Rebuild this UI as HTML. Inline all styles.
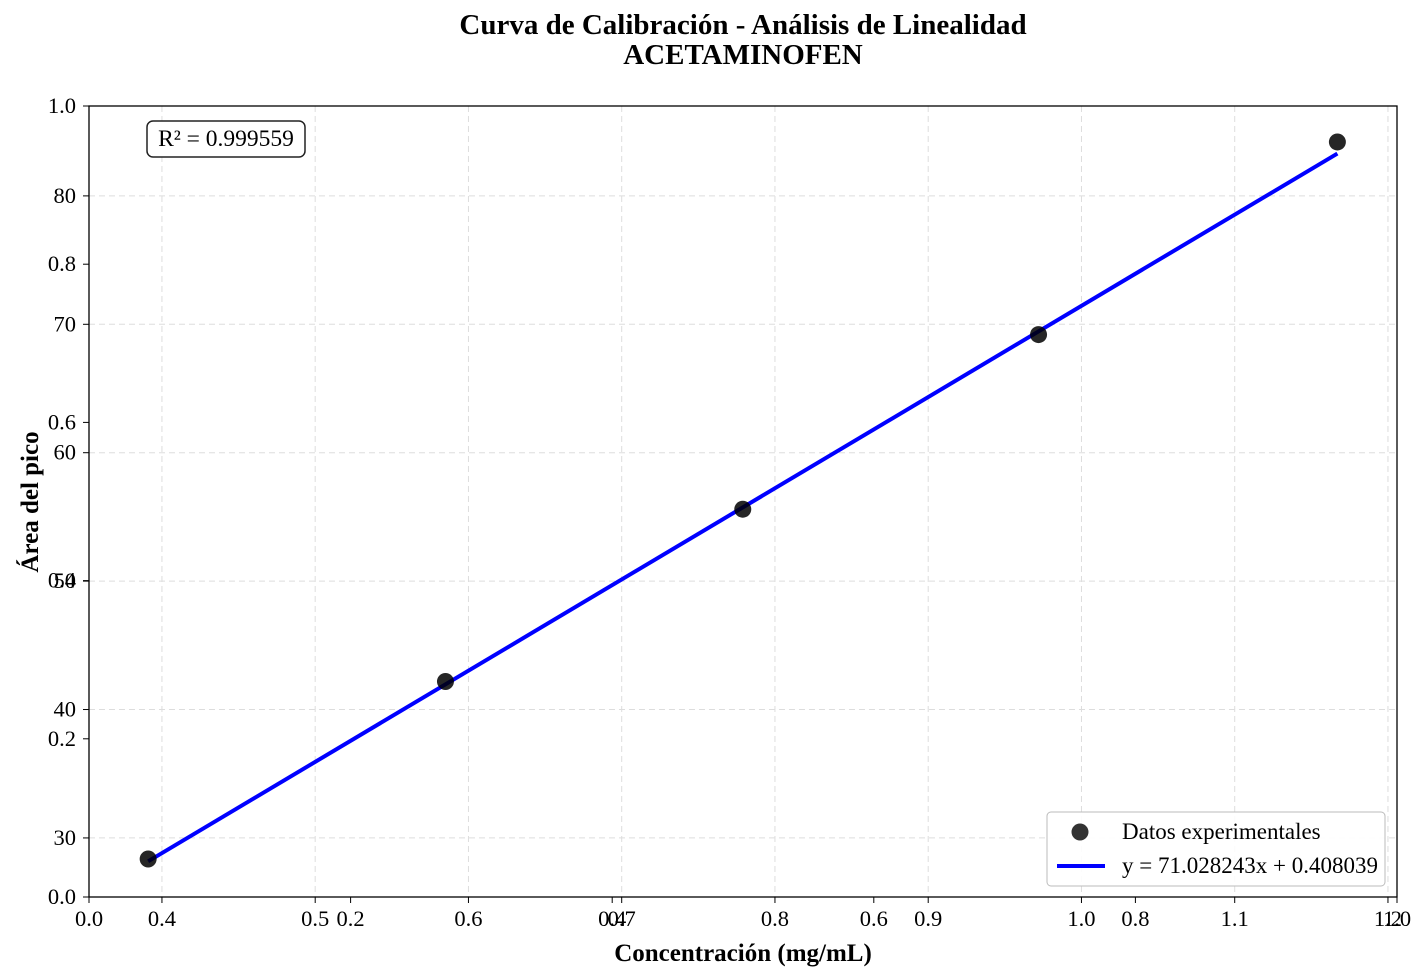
<!DOCTYPE html>
<html><head><meta charset="utf-8"><style>
body{margin:0;background:#fff;}
svg{display:block;font-family:"Liberation Serif",serif;}
</style></head><body>
<svg id="chart" width="1428" height="980" xmlns="http://www.w3.org/2000/svg">
<text x="743" y="34" text-anchor="middle" font-size="29" font-weight="bold">Curva de Calibración - Análisis de Linealidad</text>
<text x="743" y="64" text-anchor="middle" font-size="29" font-weight="bold">ACETAMINOFEN</text>
<g id="grid"></g>
<g id="axes"></g>
<g id="marks"></g>
<text x="743" y="961" text-anchor="middle" font-size="25" font-weight="bold">Concentración (mg/mL)</text>
<text transform="translate(38,502) rotate(-90)" text-anchor="middle" font-size="25" font-weight="bold">Área del pico</text>
<g>
<rect x="147" y="121" width="158" height="36" rx="6" fill="#fff" stroke="#222" stroke-width="1.5"/>
<text x="226" y="146" text-anchor="middle" font-size="23.5">R² = 0.999559</text>
</g>
<g>
<rect x="1047" y="812" width="338" height="74" rx="4" fill="#fff" fill-opacity="0.9" stroke="#bbb"/>
<circle cx="1080" cy="832" r="8.5" fill="#000" fill-opacity="0.8"/>
<text x="1122" y="839" font-size="23">Datos experimentales</text>
<line x1="1057" y1="866" x2="1105" y2="866" stroke="#0000ff" stroke-width="4"/>
<text x="1122" y="873" font-size="23">y = 71.028243x + 0.408039</text>
</g>
</svg>
<script>
const concentrations=[0.391,0.585,0.779,0.972,1.167];
const areas=[28.36,42.18,55.6,69.2,84.2];
const slope=71.028243, intercept=0.408039;
const xTicks=[0.4,0.5,0.6,0.7,0.8,0.9,1.0,1.1,1.2];
const yTicks=[30,40,50,60,70,80];
const bgTicks=[0.0,0.2,0.4,0.6,0.8,1.0];
const L=89,R=1397,T=106,B=897;
const xMin=0.3524,xMax=1.2059,yMin=25.4,yMax=87.0;
const sx=v=>L+(v-xMin)/(xMax-xMin)*(R-L);
const sy=v=>B-(v-yMin)/(yMax-yMin)*(B-T);
const bx=v=>L+v*(R-L), by=v=>B-v*(B-T);
const NS="http://www.w3.org/2000/svg";
function mk(tag,attrs,parent,txt){const e=document.createElementNS(NS,tag);for(const k in attrs)e.setAttribute(k,attrs[k]);if(txt!==undefined)e.textContent=txt;parent.appendChild(e);return e;}
const grid=document.getElementById('grid'),axes=document.getElementById('axes'),marks=document.getElementById('marks');
xTicks.forEach(v=>{const g=mk('line',{x1:sx(v),x2:sx(v),y1:T,y2:B,stroke:'#ddd','stroke-dasharray':'6,4','stroke-width':1},grid);

});
yTicks.forEach(v=>{const g=mk('line',{x1:L,x2:R,y1:sy(v),y2:sy(v),stroke:'#ddd','stroke-dasharray':'6,4','stroke-width':1},grid);

});
const frame=mk('rect',{x:L,y:T,width:R-L,height:B-T,fill:'none',stroke:'#000','stroke-width':1.3},axes);


function xtick(px,label){mk('line',{x1:px,x2:px,y1:B,y2:B+6,stroke:'#000'},axes);
const t=mk('text',{x:px,y:B+29,'text-anchor':'middle','font-size':22.5},axes,label);

}
function ytick(py,label){mk('line',{x1:L-6,x2:L,y1:py,y2:py,stroke:'#000'},axes);
const t=mk('text',{x:L-13,y:py+7,'text-anchor':'end','font-size':22.5},axes,label);

}
bgTicks.forEach(v=>{xtick(bx(v),v.toFixed(1));ytick(by(v),v.toFixed(1));});
xTicks.forEach(v=>xtick(sx(v),v.toFixed(1)));
yTicks.forEach(v=>ytick(sy(v),String(v)));
const x0=concentrations[0],x1=concentrations[concentrations.length-1];
const fit=mk('line',{x1:sx(x0),y1:sy(slope*x0+intercept),x2:sx(x1),y2:sy(slope*x1+intercept),stroke:'#0000ff','stroke-width':4},marks);


concentrations.forEach((c,i)=>{const p=mk('circle',{cx:sx(c),cy:sy(areas[i]),r:8.5,fill:'#000','fill-opacity':0.85},marks);

});
</script>
</body></html>
